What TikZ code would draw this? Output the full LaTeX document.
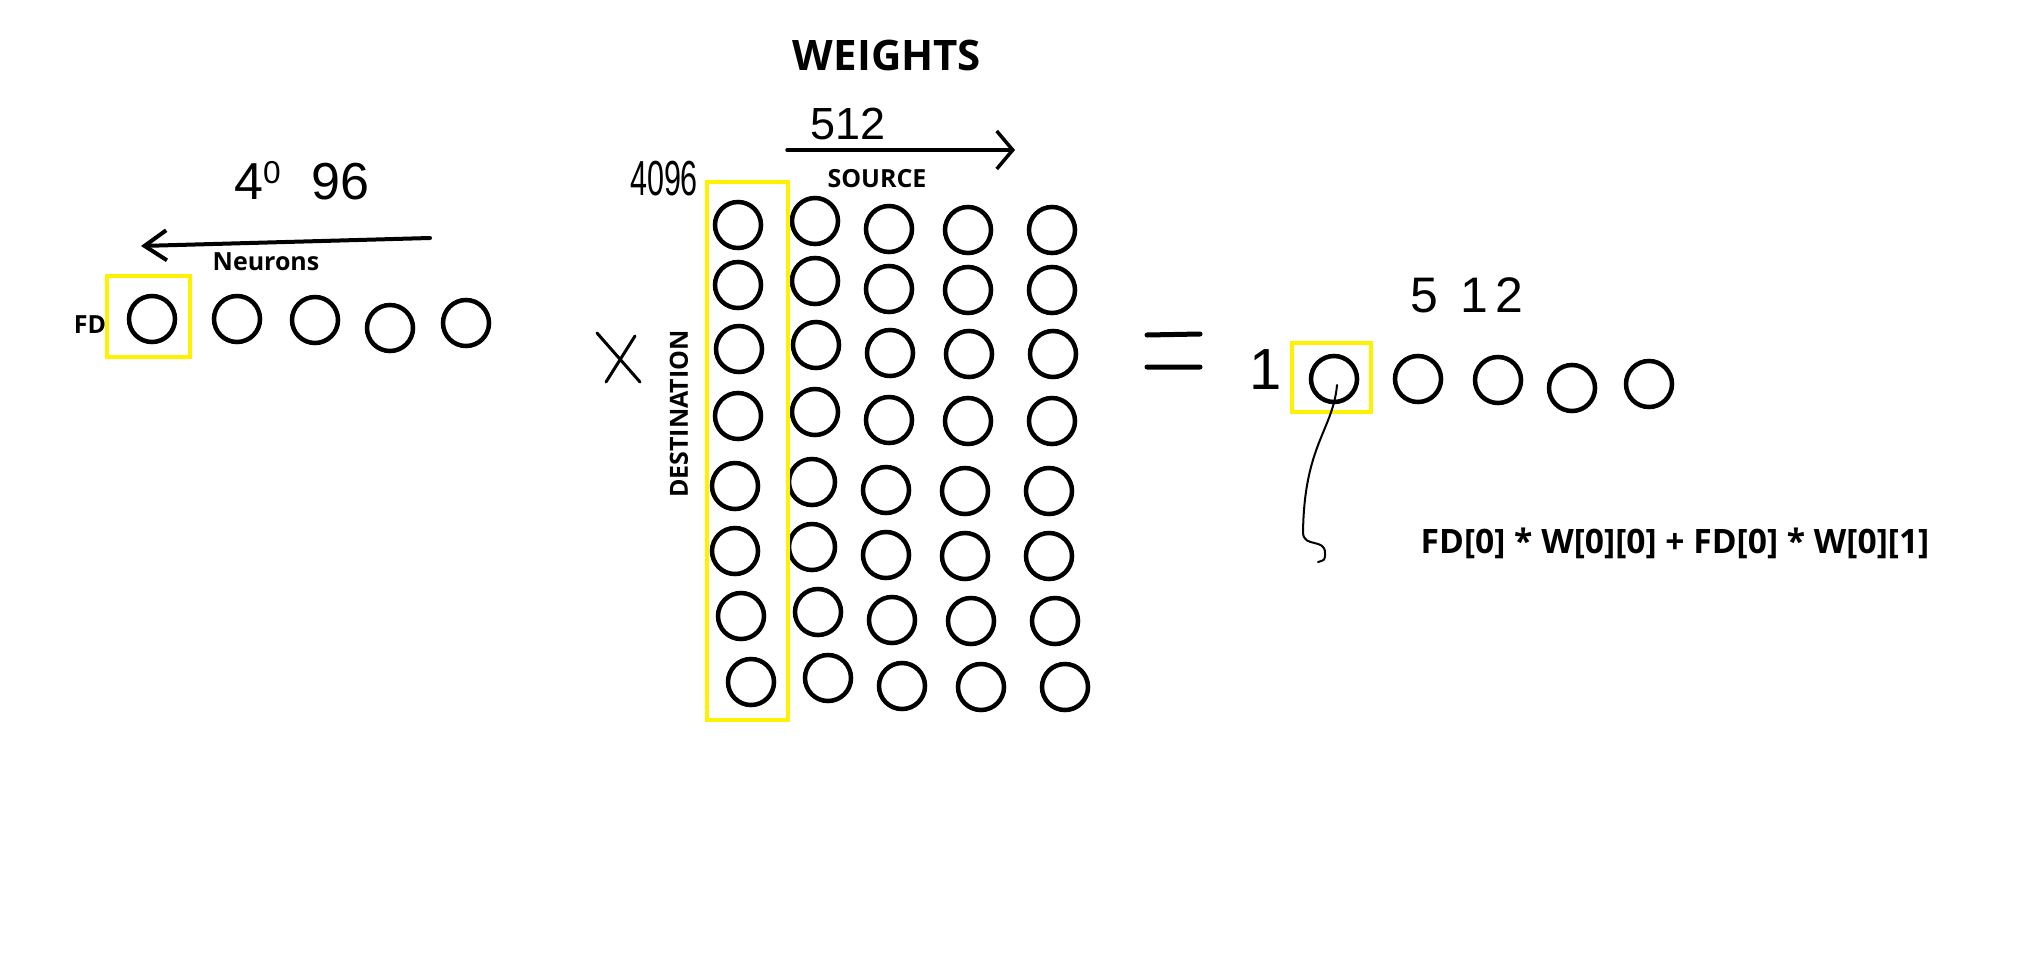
\documentclass[tikz,border=0pt]{standalone}
\usepackage{fontspec}
\setmainfont{Open Sans}
\newfontfamily\handfont{Liberation Sans}
\usetikzlibrary{arrows.meta}
\definecolor{hlyellow}{RGB}{255,242,0}

\begin{document}
\begin{tikzpicture}[x=0.01cm, y=-0.01cm,
  neuron/.style={circle, draw, line width=0.045cm, minimum size=0.46cm, inner sep=0pt},
  hlbox/.style={draw=hlyellow, line width=0.045cm},
  lbl/.style={inner sep=0pt, font=\bfseries\fontsize{7.1pt}{8pt}\selectfont},
  hand/.style={inner sep=0pt, font=\handfont\fontsize{#1}{#1}\selectfont},
  hand/.default=14pt,
  pen/.style={line width=0.04cm, line cap=round, line join=round}]
  \useasboundingbox (0,0) rectangle (2034,979);

  % input vector FD
  \foreach \i/\x/\y in {1/152/319, 2/237/319, 3/315/320, 4/390/328, 5/466/323}
    \node[neuron] (fd\i) at (\x,\y) {};
  \draw[hlbox] (107,276) rectangle (190,357);
  \node[lbl] (fdlbl) at (90,325) {FD};
  \node[lbl] (neurons) at (266,262) {Neurons};
  \node[hand=14.8pt] (nin) at (302,181) {4\raisebox{0.3em}{\fontsize{9pt}{9pt}\selectfont 0}\hspace{0.6em}96};
  \coordinate (lstart) at (430,238);
  \coordinate (lend) at (141,246);
  \draw[pen, -{Straight Barb[length=0.22cm, width=0.3cm]}] (lstart) -- (lend);

  % times
  \draw[pen, line width=0.03cm] (597,333) -- (640,382) (635,336) -- (606,382);

  % weight matrix
  \foreach \r/\y/\dx in {1/225/0, 2/285/0, 3/349/1, 4/416/0, 5/486/-3, 6/551/-3, 7/616/3, 8/682/13}
    \foreach \c/\x/\dy in {1/738/0, 2/815/-4, 3/889/4, 4/968/5, 5/1052/5}
      \node[neuron] (w\r\c) at ({\x+\dx},{\y+\dy}) {};
  \draw[hlbox] (707,182) rectangle (788,720);
  \node[lbl, font=\bfseries\fontsize{11.95pt}{14pt}\selectfont] (weights) at (887,55) {WEIGHTS};
  \node[hand=12.8pt] (nsrc) at (848,124) {512};
  \coordinate (rstart) at (787,150);
  \coordinate (rend) at (1015,150);
  \draw[pen, line width=0.035cm, -{Straight Barb[length=0.16cm, width=0.38cm]}] (rstart) -- (rend);
  \node[lbl] (source) at (877,179) {SOURCE};
  \node[hand=14pt, xscale=0.62, transform shape] (ndst) at (664,179) {4096};
  \node[lbl, rotate=90] (dest) at (679,414) {DESTINATION};

  % equals
  \draw[pen, line width=0.05cm] (1147,335) -- (1200,334) (1147,367) -- (1200,367);

  % output vector
  \foreach \i/\x/\y in {1/1334/379, 2/1418/379, 3/1498/380, 4/1572/388, 5/1649/384}
    \node[neuron] (out\i) at (\x,\y) {};
  \draw[hlbox] (1292,343) rectangle (1371,412);
  \node[hand=16.5pt] (one) at (1266,370) {1};
  \node[hand=14.2pt] (nout) at (1467,295) {5\hspace{0.45em}1\hspace{0.15em}2};
  \node[lbl, font=\bfseries\fontsize{9.56pt}{11pt}\selectfont, anchor=base west] (formula) at (1420,553) {FD[0] * W[0][0] + FD[0] * W[0][1]};
  \coordinate (hook) at (1303,533);
  \coordinate (tail) at (1318,562);
  \draw[line width=0.02cm, line cap=round] ([shift={(3,6)}]out1.center) .. controls (1333,430) and (1304,445) .. (hook)
    .. controls (1304,548) and (1325,538) .. (1325,553) .. controls (1325,560) .. (tail);
\end{tikzpicture}
\end{document}
